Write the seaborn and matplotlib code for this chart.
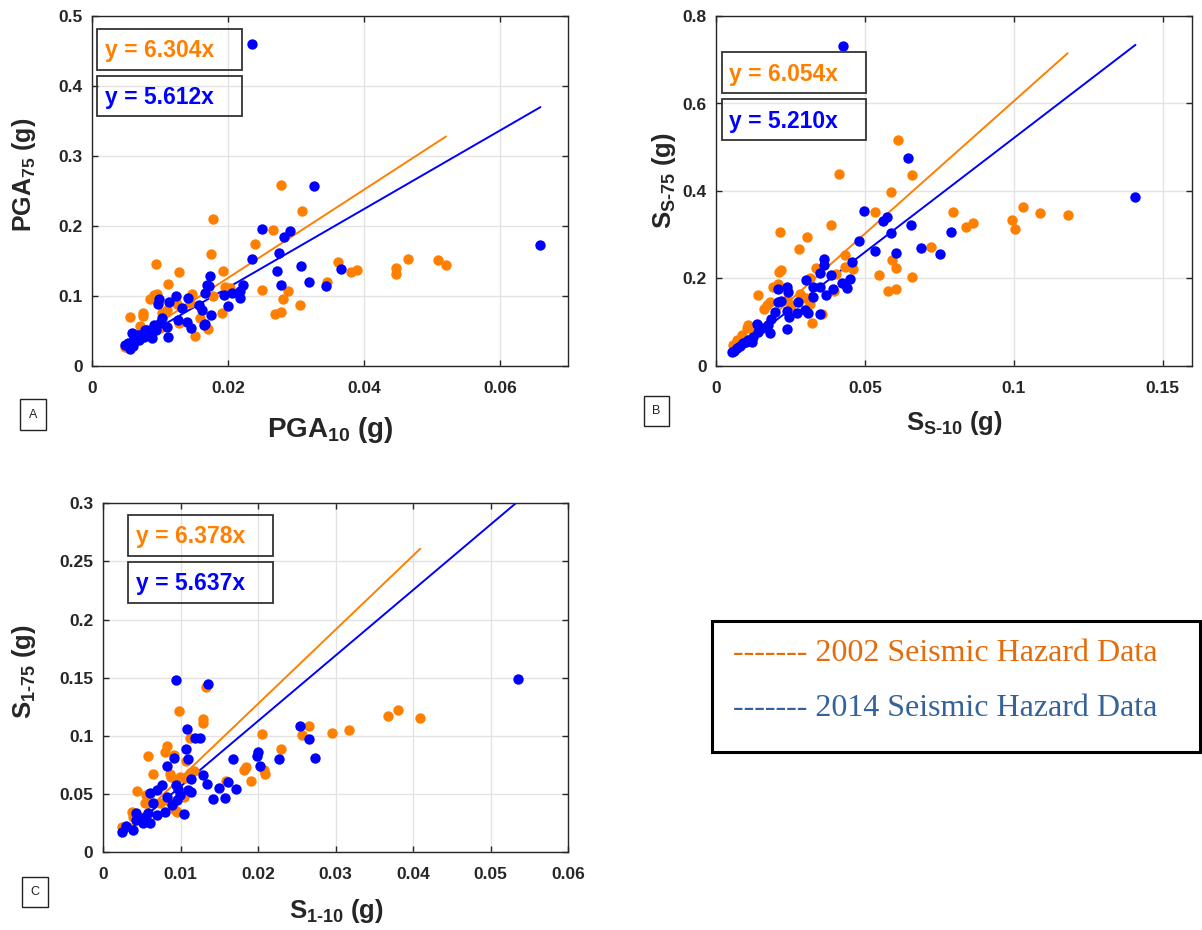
import numpy as np
import pandas as pd
import seaborn as sns
import matplotlib
matplotlib.use("Agg")
import matplotlib.pyplot as plt
from matplotlib.patches import Rectangle

# ---------------- data ----------------
a_x_2002 = [0.0277, 0.0309, 0.0178, 0.0266, 0.0239, 0.0174, 0.0093, 0.0127, 0.0192, 0.0112,
            0.0361, 0.0389, 0.0380, 0.0464, 0.0446, 0.0446, 0.0508, 0.0520, 0.0345, 0.0195,
            0.0202, 0.0249, 0.0288, 0.0281, 0.0305, 0.0269, 0.0278, 0.0190, 0.0170, 0.0151,
            0.0146, 0.0177, 0.0090, 0.0095, 0.0085, 0.0075, 0.0075, 0.0056, 0.0070, 0.0102,
            0.0124, 0.0144, 0.0100, 0.0048, 0.0082, 0.0127, 0.0158, 0.0060, 0.0065, 0.0110]
a_y_2002 = [0.2586, 0.2219, 0.2100, 0.1943, 0.1738, 0.1600, 0.1452, 0.1338, 0.1362, 0.1176,
            0.1486, 0.1371, 0.1338, 0.1529, 0.1405, 0.1314, 0.1514, 0.1438, 0.1200, 0.1133,
            0.1110, 0.1081, 0.1067, 0.0952, 0.0867, 0.0743, 0.0767, 0.0752, 0.0524, 0.0429,
            0.1033, 0.1000, 0.1014, 0.1029, 0.0957, 0.0752, 0.0714, 0.0705, 0.0571, 0.0762,
            0.0886, 0.0895, 0.0538, 0.0276, 0.0467, 0.0610, 0.0681, 0.0350, 0.0420, 0.0800]
a_x_2014 = [0.0235, 0.0326, 0.0659, 0.0249, 0.0291, 0.0282, 0.0274, 0.0235, 0.0271, 0.0307,
            0.0366, 0.0277, 0.0318, 0.0344, 0.0173, 0.0171, 0.0221, 0.0217, 0.0205, 0.0193,
            0.0217, 0.0166, 0.0199, 0.0140, 0.0123, 0.0113, 0.0097, 0.0051, 0.0056, 0.0053,
            0.0061, 0.0066, 0.0068, 0.0076, 0.0081, 0.0085, 0.0090, 0.0088, 0.0093, 0.0098,
            0.0103, 0.0100, 0.0110, 0.0112, 0.0126, 0.0132, 0.0139, 0.0145, 0.0157, 0.0161,
            0.0164, 0.0174, 0.0169, 0.0165, 0.0058, 0.0048, 0.0060, 0.0077, 0.0070, 0.0063]
a_y_2014 = [0.4595, 0.2576, 0.1729, 0.1952, 0.1933, 0.1843, 0.1619, 0.1533, 0.1357, 0.1433,
            0.1381, 0.1152, 0.1200, 0.1143, 0.1286, 0.1148, 0.1162, 0.1071, 0.1048, 0.1014,
            0.0967, 0.1038, 0.0852, 0.0967, 0.0995, 0.0919, 0.0881, 0.0300, 0.0248, 0.0323,
            0.0395, 0.0443, 0.0371, 0.0419, 0.0514, 0.0490, 0.0586, 0.0395, 0.0514, 0.0957,
            0.0681, 0.0610, 0.0562, 0.0419, 0.0657, 0.0824, 0.0633, 0.0538, 0.0871, 0.0800,
            0.0586, 0.0729, 0.1157, 0.0600, 0.0467, 0.0300, 0.0280, 0.0514, 0.0440, 0.0360]

b_x_2002 = [0.0611, 0.0412, 0.0659, 0.0586, 0.0214, 0.0306, 0.0386, 0.0279, 0.0535, 0.0795,
            0.1030, 0.1089, 0.1181, 0.0993, 0.1005, 0.0863, 0.0840, 0.0721, 0.0592, 0.0605,
            0.0547, 0.0659, 0.0578, 0.0603, 0.0432, 0.0432, 0.0335, 0.0404, 0.0460, 0.0219,
            0.0211, 0.0315, 0.0191, 0.0208, 0.0395, 0.0141, 0.0169, 0.0180, 0.0236, 0.0315,
            0.0303, 0.0354, 0.0323, 0.0102, 0.0108, 0.0085, 0.0124, 0.0055, 0.0070, 0.0160,
            0.0250, 0.0280]
b_y_2002 = [0.5166, 0.4389, 0.4373, 0.3977, 0.3055, 0.2956, 0.3223, 0.2674, 0.3520, 0.3528,
            0.3642, 0.3490, 0.3444, 0.3337, 0.3139, 0.3276, 0.3177, 0.2728, 0.2423, 0.2232,
            0.2088, 0.2027, 0.1714, 0.1768, 0.2530, 0.2270, 0.2240, 0.2103, 0.2225, 0.2194,
            0.2156, 0.2004, 0.1798, 0.1874, 0.1722, 0.1623, 0.1394, 0.1470, 0.1509, 0.1417,
            0.1547, 0.1181, 0.0975, 0.0861, 0.0937, 0.0709, 0.0823, 0.0480, 0.0600, 0.1300,
            0.1400, 0.1650]
b_x_2014 = [0.0427, 0.0644, 0.1409, 0.0498, 0.0561, 0.0575, 0.0656, 0.0586, 0.0789, 0.0480,
            0.0535, 0.0604, 0.0688, 0.0752, 0.0362, 0.0362, 0.0456, 0.0348, 0.0384, 0.0449,
            0.0424, 0.0438, 0.0303, 0.0326, 0.0348, 0.0393, 0.0326, 0.0368, 0.0236, 0.0208,
            0.0242, 0.0208, 0.0216, 0.0275, 0.0298, 0.0309, 0.0348, 0.0236, 0.0244, 0.0270,
            0.0197, 0.0183, 0.0175, 0.0180, 0.0238, 0.0136, 0.0152, 0.0141, 0.0124, 0.0108,
            0.0091, 0.0068, 0.0052, 0.0119, 0.0060, 0.0080, 0.0100]
b_y_2014 = [0.7314, 0.4754, 0.3870, 0.3550, 0.3314, 0.3413, 0.3223, 0.3048, 0.3070, 0.2850,
            0.2636, 0.2583, 0.2697, 0.2560, 0.2446, 0.2309, 0.2377, 0.2118, 0.2072, 0.1996,
            0.1905, 0.1775, 0.1966, 0.1798, 0.1798, 0.1768, 0.1585, 0.1615, 0.1798, 0.1752,
            0.1699, 0.1470, 0.1486, 0.1470, 0.1280, 0.1204, 0.1189, 0.1265, 0.1112, 0.1219,
            0.1227, 0.1067, 0.0937, 0.0747, 0.0838, 0.0960, 0.0861, 0.0785, 0.0670, 0.0594,
            0.0518, 0.0404, 0.0328, 0.0556, 0.0350, 0.0450, 0.0550]

c_x_2002 = [0.0133, 0.0098, 0.0129, 0.0129, 0.0112, 0.0266, 0.0256, 0.0205, 0.0295, 0.0317,
            0.0368, 0.0380, 0.0409, 0.0230, 0.0207, 0.0209, 0.0182, 0.0185, 0.0191, 0.0158,
            0.0058, 0.0080, 0.0083, 0.0092, 0.0107, 0.0064, 0.0087, 0.0088, 0.0099, 0.0106,
            0.0112, 0.0117, 0.0044, 0.0056, 0.0054, 0.0073, 0.0082, 0.0093, 0.0095, 0.0037,
            0.0039, 0.0024, 0.0104]
c_y_2002 = [0.1417, 0.1216, 0.1144, 0.1109, 0.0983, 0.1083, 0.1006, 0.1011, 0.1020, 0.1046,
            0.1172, 0.1224, 0.1152, 0.0888, 0.0707, 0.0672, 0.0707, 0.0730, 0.0612, 0.0612,
            0.0830, 0.0859, 0.0908, 0.0833, 0.0779, 0.0672, 0.0672, 0.0644, 0.0649, 0.0635,
            0.0678, 0.0693, 0.0523, 0.0491, 0.0420, 0.0420, 0.0448, 0.0362, 0.0348, 0.0348,
            0.0305, 0.0218, 0.0477]
c_x_2014 = [0.0535, 0.0094, 0.0135, 0.0108, 0.0118, 0.0125, 0.0107, 0.0109, 0.0091, 0.0083,
            0.0254, 0.0266, 0.0274, 0.0200, 0.0199, 0.0227, 0.0203, 0.0168, 0.0129, 0.0134,
            0.0149, 0.0161, 0.0171, 0.0142, 0.0157, 0.0113, 0.0110, 0.0113, 0.0105, 0.0094,
            0.0097, 0.0099, 0.0096, 0.0089, 0.0082, 0.0076, 0.0069, 0.0060, 0.0065, 0.0080,
            0.0069, 0.0056, 0.0050, 0.0043, 0.0043, 0.0052, 0.0039, 0.0030, 0.0024, 0.0061,
            0.0058]
c_y_2014 = [0.1486, 0.1483, 0.1443, 0.1060, 0.0983, 0.0983, 0.0888, 0.0799, 0.0805, 0.0744,
            0.1080, 0.0968, 0.0805, 0.0862, 0.0828, 0.0799, 0.0741, 0.0799, 0.0661, 0.0589,
            0.0549, 0.0598, 0.0543, 0.0454, 0.0466, 0.0632, 0.0534, 0.0520, 0.0328, 0.0578,
            0.0543, 0.0491, 0.0448, 0.0405, 0.0477, 0.0578, 0.0534, 0.0511, 0.0420, 0.0348,
            0.0319, 0.0276, 0.0290, 0.0333, 0.0276, 0.0247, 0.0190, 0.0224, 0.0175, 0.0247,
            0.0333]

slopes_2002 = [6.304, 6.054, 6.378]
slopes_2014 = [5.612, 5.210, 5.637]

x_ticks = [[0, 0.02, 0.04, 0.06], [0, 0.05, 0.1, 0.15], [0, 0.01, 0.02, 0.03, 0.04, 0.05, 0.06]]
y_ticks = [[0, 0.1, 0.2, 0.3, 0.4, 0.5], [0, 0.2, 0.4, 0.6, 0.8], [0, 0.05, 0.1, 0.15, 0.2, 0.25, 0.3]]
x_lims = [(0, 0.07), (0, 0.16), (0, 0.06)]
y_lims = [(0, 0.5), (0, 0.8), (0, 0.3)]
x_labels = ["PGA$_{10}$ (g)", "S$_{\\text{S-10}}$ (g)", "S$_{\\text{1-10}}$ (g)"]
y_labels = ["PGA$_{75}$ (g)", "S$_{\\text{S-75}}$ (g)", "S$_{\\text{1-75}}$ (g)"]
panel_tags = ["A", "B", "C"]
legend_labels = ["2002 Seismic Hazard Data", "2014 Seismic Hazard Data"]

# ---------------- style ----------------
sns.set_theme(style="white")
plt.rcParams["font.family"] = ["Liberation Sans", "DejaVu Sans"]
plt.rcParams["mathtext.fontset"] = "custom"
plt.rcParams["mathtext.rm"] = "Liberation Sans:bold"
plt.rcParams["mathtext.bf"] = "Liberation Sans:bold"
plt.rcParams["mathtext.it"] = "Liberation Sans:bold"
plt.rcParams["mathtext.default"] = "bf"

ORANGE = "#FF8000"
BLUE = "#0000FF"
W, H = 1202, 930

fig = plt.figure(figsize=(W / 100, H / 100), dpi=100)
fig.patch.set_facecolor("white")


def rect(l, t, r, b):
    return [l / W, 1 - b / H, (r - l) / W, (b - t) / H]


def fbox(l, t, r, b, lw=1.3, ec="#333333"):
    fig.add_artist(Rectangle((l / W, 1 - b / H), (r - l) / W, (b - t) / H,
                             transform=fig.transFigure, fill=False, lw=lw, ec=ec))


def ftext(x, y, s, **kw):
    fig.text(x / W, 1 - y / H, s, **kw)


axes_px = [(92.3, 16, 568.3, 366), (716.3, 16, 1192.3, 366), (103, 503.3, 568.3, 852)]
panels = [
    (a_x_2002, a_y_2002, a_x_2014, a_y_2014),
    (b_x_2002, b_y_2002, b_x_2014, b_y_2014),
    (c_x_2002, c_y_2002, c_x_2014, c_y_2014),
]

eq_boxes = [  # (left, top1, right, bottom1, top2, bottom2, text_x, base1, base2)
    (97.3, 28.7, 241.7, 69.7, 75.7, 116.3, 105, 57.3, 104),
    (721.7, 51.7, 865.7, 93.3, 98.7, 140, 729.3, 81, 127.7),
    (128.3, 515, 273.3, 556, 562, 603, 136, 543.3, 590),
]

# label positions (px)
xlab_pos = [(330, 437, 20), (954, 430, 18.5), (336, 918, 18.5)]
ylab_pos = [(31, 175, 18), (671, 181, 18.5), (31, 672, 18.5)]
tag_boxes = [(20, 399, 46, 430), (644, 396, 669, 426), (22, 877, 48, 907)]

for i, ax_px in enumerate(axes_px):
    ax = fig.add_axes(rect(*ax_px))
    x02, y02, x14, y14 = panels[i]
    df02 = pd.DataFrame({"x": x02, "y": y02})
    df14 = pd.DataFrame({"x": x14, "y": y14})

    # fit lines over the data range
    xs02 = np.array([min(x02), max(x02)])
    xs14 = np.array([min(x14), max(x14)])
    sns.lineplot(x=xs02, y=slopes_2002[i] * xs02, ax=ax, color=ORANGE, lw=1.4, zorder=2)
    sns.lineplot(x=xs14, y=slopes_2014[i] * xs14, ax=ax, color=BLUE, lw=1.4, zorder=2)

    sns.scatterplot(data=df02, x="x", y="y", ax=ax, color=ORANGE, s=56, linewidth=0, zorder=3)
    sns.scatterplot(data=df14, x="x", y="y", ax=ax, color=BLUE, s=56, linewidth=0, zorder=4)

    ax.set_xlim(*x_lims[i])
    ax.set_ylim(*y_lims[i])
    ax.set_xticks(x_ticks[i])
    ax.set_yticks(y_ticks[i])
    ax.set_xticklabels([f"{v:g}" for v in x_ticks[i]], fontweight="bold", fontsize=12.5, color="#262626")
    ax.set_yticklabels([f"{v:g}" for v in y_ticks[i]], fontweight="bold", fontsize=12.5, color="#262626")
    ax.tick_params(axis="x", direction="in", top=True, bottom=True, length=4, width=1,
                   color="#262626", pad=11)
    ax.tick_params(axis="y", direction="in", left=True, right=True, length=4, width=1,
                   color="#262626", pad=7)
    ax.grid(True, color="#e3e3e3", lw=1)
    ax.set_axisbelow(True)
    for sp in ax.spines.values():
        sp.set_color("#262626")
        sp.set_linewidth(1)
    ax.set_xlabel("")
    ax.set_ylabel("")

    # equation boxes
    l, t1, r, b1, t2, b2, tx, base1, base2 = eq_boxes[i]
    fbox(l, t1, r, b1)
    fbox(l, t2, r, b2)
    ftext(tx, base1, f"y = {slopes_2002[i]:.3f}x", color=ORANGE, fontsize=16.5,
          fontweight="bold", va="baseline", ha="left")
    ftext(tx, base2, f"y = {slopes_2014[i]:.3f}x", color=BLUE, fontsize=16.5,
          fontweight="bold", va="baseline", ha="left")

    # axis labels
    xx, xy, xfs = xlab_pos[i]
    ftext(xx, xy, x_labels[i], fontsize=xfs, fontweight="bold", color="#262626",
          ha="center", va="baseline")
    yx, yy, yfs = ylab_pos[i]
    ftext(yx, yy, y_labels[i], fontsize=yfs, fontweight="bold", color="#262626",
          ha="center", va="baseline", rotation=90, rotation_mode="anchor")

    # panel tag
    tl, tt, tr, tb = tag_boxes[i]
    fbox(tl, tt, tr, tb, lw=1.0, ec="#222222")
    ftext((tl + tr) / 2, (tt + tb) / 2, panel_tags[i], fontsize=9, color="#222222",
          ha="center", va="center")

# legend box
fbox(712.3, 620.7, 1200, 751.5, lw=2.2, ec="black")
ftext(733, 661, "------- " + legend_labels[0], fontsize=23, color="#E46C0A",
      family=["Liberation Serif", "DejaVu Serif"], ha="left", va="baseline")
ftext(733, 716, "------- " + legend_labels[1], fontsize=23, color="#36629A",
      family=["Liberation Serif", "DejaVu Serif"], ha="left", va="baseline")

fig.savefig("out.png", dpi=100, facecolor="white")
